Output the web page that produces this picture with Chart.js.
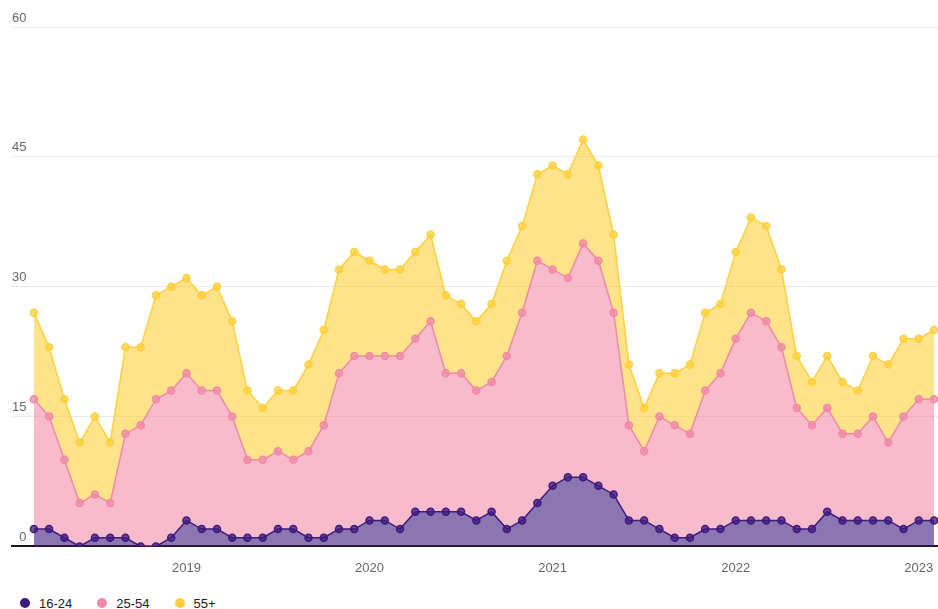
<!DOCTYPE html>
<html>
<head>
<meta charset="utf-8">
<title>Unemployment by age</title>
<script src="https://cdn.jsdelivr.net/npm/chart.js@4.4.1/dist/chart.umd.min.js"></script>
<style>
  html, body { margin: 0; padding: 0; background: #fff; overflow: hidden; }
  #wrap { position: relative; width: 938px; height: 609px; font-family: "Liberation Sans", Arial, sans-serif; }
  #chartBox { position: absolute; left: 0; top: 0; width: 938px; height: 594px; }
  #legend { position: absolute; left: 20px; top: 596px; margin: 0; padding: 0; list-style: none; display: flex; }
  #legend li { display: flex; align-items: center; height: 14px; margin-right: 25px; font-size: 13px; color: #222; }
  .legendDot { width: 10px; height: 10px; border-radius: 50%; margin-right: 9px; }
</style>
</head>
<body>
<div id="wrap">
  <div id="chartBox"><canvas id="ageChart"></canvas></div>
  <ul id="legend"></ul>
</div>
<script>
// one entry per month, Mar 2018 - Feb 2023
const months = [
  '2018-03', '2018-04', '2018-05', '2018-06', '2018-07', '2018-08', '2018-09', '2018-10', '2018-11', '2018-12',
  '2019-01', '2019-02', '2019-03', '2019-04', '2019-05', '2019-06', '2019-07', '2019-08', '2019-09', '2019-10', '2019-11', '2019-12',
  '2020-01', '2020-02', '2020-03', '2020-04', '2020-05', '2020-06', '2020-07', '2020-08', '2020-09', '2020-10', '2020-11', '2020-12',
  '2021-01', '2021-02', '2021-03', '2021-04', '2021-05', '2021-06', '2021-07', '2021-08', '2021-09', '2021-10', '2021-11', '2021-12',
  '2022-01', '2022-02', '2022-03', '2022-04', '2022-05', '2022-06', '2022-07', '2022-08', '2022-09', '2022-10', '2022-11', '2022-12',
  '2023-01', '2023-02'
];

const ageGroups = ['16-24', '25-54', '55+'];

const youngVals = [2, 2, 1, 0, 1, 1, 1, 0, 0, 1, 3, 2, 2, 1, 1, 1, 2, 2, 1, 1,
  2, 2, 3, 3, 2, 4, 4, 4, 4, 3, 4, 2, 3, 5, 7, 8, 8, 7, 6, 3,
  3, 2, 1, 1, 2, 2, 3, 3, 3, 3, 2, 2, 4, 3, 3, 3, 3, 2, 3, 3];

const primeVals = [15, 13, 9, 5, 5, 4, 12, 14, 17, 17, 17, 16, 16, 14, 9, 9, 9, 8, 10, 13,
  18, 20, 19, 19, 20, 20, 22, 16, 16, 15, 15, 20, 24, 28, 25, 23, 27, 26, 21, 11,
  8, 13, 13, 12, 16, 18, 21, 24, 23, 20, 14, 12, 12, 10, 10, 12, 9, 13, 14, 14];

const olderVals = [10, 8, 7, 7, 9, 7, 10, 9, 12, 12, 11, 11, 12, 11, 8, 6, 7, 8, 10, 11,
  12, 12, 11, 10, 10, 10, 10, 9, 8, 8, 9, 11, 10, 10, 12, 12, 12, 11, 9, 7,
  5, 5, 6, 8, 9, 8, 10, 11, 11, 9, 6, 5, 6, 6, 5, 7, 9, 9, 7, 8];

const yTicks = [0, 15, 30, 45, 60];
const yearTicks = ['2019', '2020', '2021', '2022', '2023'];

const lineColors = ['#3d1a7e', '#f08aa6', '#fdd03c'];
const fillColors = ['rgba(61,26,126,0.6)', 'rgba(242,142,168,0.6)', 'rgba(253,208,60,0.6)'];
const pointFills = ['rgba(61,26,126,0.75)', 'rgba(240,138,166,0.75)', 'rgba(253,208,60,0.75)'];

// "2018-03" -> 2018.1667 so the years land on whole numbers
function toYear(m) {
  const parts = m.split('-').map(Number);
  return parts[0] + (parts[1] - 1) / 12;
}

function toPoints(vals) {
  return vals.map((v, i) => ({ x: toYear(months[i]), y: v }));
}

const seriesVals = [youngVals, primeVals, olderVals];

const datasets = seriesVals.map((vals, i) => ({
  label: ageGroups[i],
  data: toPoints(vals),
  borderColor: lineColors[i],
  backgroundColor: fillColors[i],
  pointBackgroundColor: pointFills[i],
  pointBorderColor: lineColors[i],
  fill: i === 0 ? 'origin' : '-1'
}));

const xMin = toYear(months[0]) - 1.5 / 12;
const xMax = toYear(months[months.length - 1]) + 0.26 / 12;

// no extra room for the edge labels, the layout padding handles it
function noEdgePadding(scale) {
  scale.paddingLeft = 0;
  scale.paddingRight = 0;
  scale.paddingTop = 0;
  scale.paddingBottom = 0;
}

const ctx = document.getElementById('ageChart').getContext('2d');
const ageChart = new Chart(ctx, {
  type: 'line',
  data: { datasets: datasets },
  options: {
    animation: false,
    responsive: true,
    maintainAspectRatio: false,
    layout: { autoPadding: false, padding: { left: 9, right: 0, top: 27, bottom: 4 } },
    font: { family: '"Liberation Sans", Arial, sans-serif' },
    elements: {
      line: { tension: 0, borderWidth: 1.5 },
      point: { radius: 3.5, borderWidth: 1.5 }
    },
    plugins: {
      legend: { display: false },
      tooltip: { enabled: false }
    },
    scales: {
      x: {
        type: 'linear',
        min: xMin,
        max: xMax,
        grid: { display: false, drawTicks: false },
        border: { display: false },
        afterBuildTicks: (scale) => { scale.ticks = yearTicks.map(t => ({ value: +t })); },
        afterFit: noEdgePadding,
        ticks: {
          autoSkip: false,
          maxRotation: 0,
          padding: 14,
          color: '#666',
          font: { size: 13 },
          callback: (v) => String(v)
        }
      },
      y: {
        stacked: true,
        min: 0,
        max: 60,
        afterBuildTicks: (scale) => { scale.ticks = yTicks.map(v => ({ value: v })); },
        afterFit: noEdgePadding,
        grid: {
          drawTicks: false,
          color: (c) => c.tick.value === 0 ? '#1a1a1a' : '#e9e9e9',
          lineWidth: (c) => c.tick.value === 0 ? 2 : 1
        },
        border: { display: false },
        ticks: {
          mirror: true,
          crossAlign: 'far',
          padding: 1,
          labelOffset: -9,
          color: '#666',
          font: { size: 13 }
        }
      }
    }
  }
});

// html legend built from the datasets
const text = [];
ageChart.data.datasets.forEach(ds => {
  text.push('<li><span class="legendDot" style="background-color:' + ds.borderColor + ';"></span><span>' + ds.label + '</span></li>');
});
document.getElementById('legend').innerHTML = text.join('');
</script>
</body>
</html>
